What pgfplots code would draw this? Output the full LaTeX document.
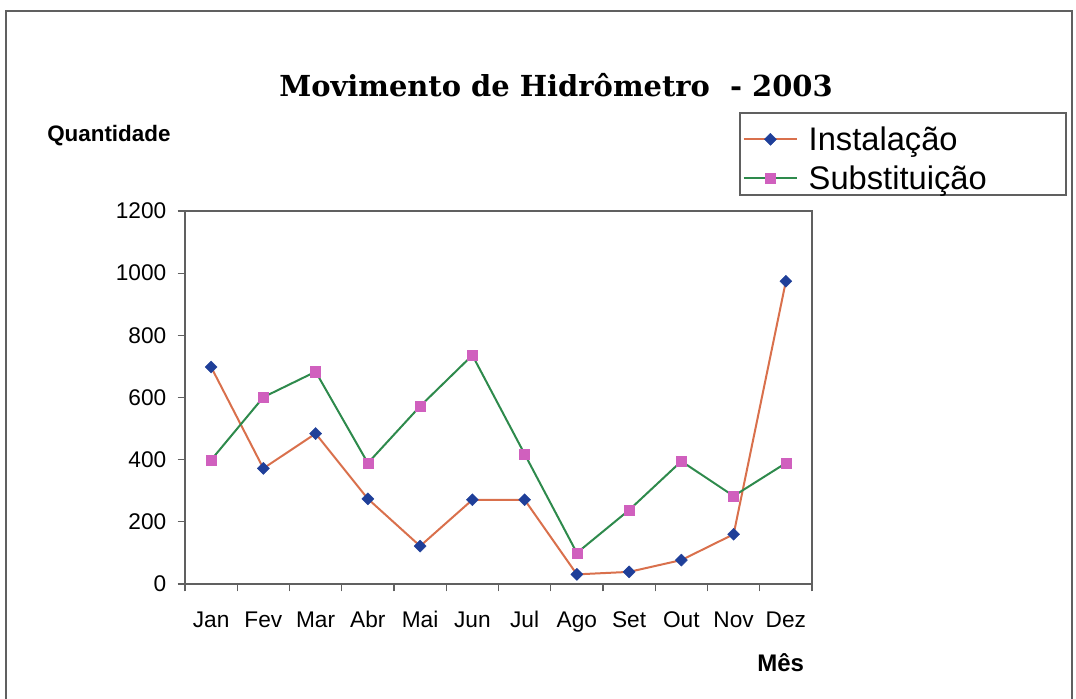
\documentclass[border=0pt]{standalone}
\usepackage{fontspec}
\setmainfont{Liberation Sans}
\newfontfamily\titlefont{DejaVu Serif}
\usepackage{pgfplots}
\pgfplotsset{compat=1.18}
\usetikzlibrary{plotmarks}

\definecolor{instline}{HTML}{D9704C}
\definecolor{instmark}{HTML}{1F3F99}
\definecolor{subsline}{HTML}{2E8A4C}
\definecolor{subsmark}{HTML}{D060BE}
\definecolor{framegray}{HTML}{606060}

\begin{document}
\begin{tikzpicture}
% page area, 1 unit = 0.75pt, y downwards
\begin{scope}[x=0.75pt,y=-0.75pt]
  \path[use as bounding box] (0,0) rectangle (1076,699);
  \draw[framegray,line width=1.2pt] (6,699) -- (6,11) -- (1072,11) -- (1072,699);
  \node[anchor=base,font=\titlefont\bfseries\fontsize{21.7}{24}\selectfont] at (556,97) {Movimento de Hidrômetro\ \ - 2003};
  \node[anchor=base west,inner sep=0pt,font=\bfseries\fontsize{16.8}{19}\selectfont] at (47,142) {Quantidade};
  \node[anchor=base west,inner sep=0pt,font=\bfseries\fontsize{18}{20}\selectfont] at (757,671) {Mês};
  \draw[framegray,line width=0.9pt] (740,113) rectangle (1066,195);
\end{scope}

\begin{axis}[
  at={(138.75pt,-438pt)}, anchor=south west,
  scale only axis, width=470.25pt, height=279.75pt,
  xmin=-0.5, xmax=11.5, ymin=0, ymax=1200,
  ytick={0,200,...,1200},
  xtick={0,...,11},
  xticklabels={Jan,Fev,Mar,Abr,Mai,Jun,Jul,Ago,Set,Out,Nov,Dez},
  minor xtick={-0.5,0.5,...,11.5},
  major x tick style={draw=none},
  tick pos=left, tick align=outside,
  major tick length=5.5pt, minor tick length=5.5pt,
  axis line style={framegray,line width=0.9pt},
  every tick/.style={framegray,line width=0.9pt},
  /pgf/number format/assume math mode=true,
  /pgf/number format/1000 sep={},
  tick label style={font=\fontsize{17}{20}\selectfont},
  yticklabel style={xshift=-5pt},
  xticklabel style={text height=12.5pt, text depth=3.5pt, yshift=-11pt},
  legend style={draw=none, fill=none, at={(0.887,1.238)}, anchor=north west,
    font=\fontsize{24.5}{27}\selectfont, row sep=6pt, column sep=6pt,
    inner sep=1pt},
  legend cell align=left,
  legend image code/.code={\draw[mark repeat=2,mark phase=2,#1]
    plot coordinates {(0pt,0pt) (20pt,0pt) (40pt,0pt)};},
]
\addplot[instline, line width=1.5pt, mark=square*,
  mark size=3.2pt, mark options={instmark, fill=instmark, line width=0.3pt, rotate=45}]
  coordinates {(0,698) (1,372) (2,484) (3,274) (4,122) (5,271)
               (6,271) (7,31) (8,39) (9,77) (10,160) (11,974)};
\addlegendentry{Instalação}
\addplot[subsline, line width=1.5pt, mark=square*,
  mark size=3.8pt, mark options={subsmark, fill=subsmark, line width=0.3pt}]
  coordinates {(0,399) (1,601) (2,683) (3,389) (4,572) (5,736)
               (6,418) (7,100) (8,238) (9,395) (10,283) (11,389)};
\addlegendentry{Substituição}
\end{axis}
\end{tikzpicture}
\end{document}
